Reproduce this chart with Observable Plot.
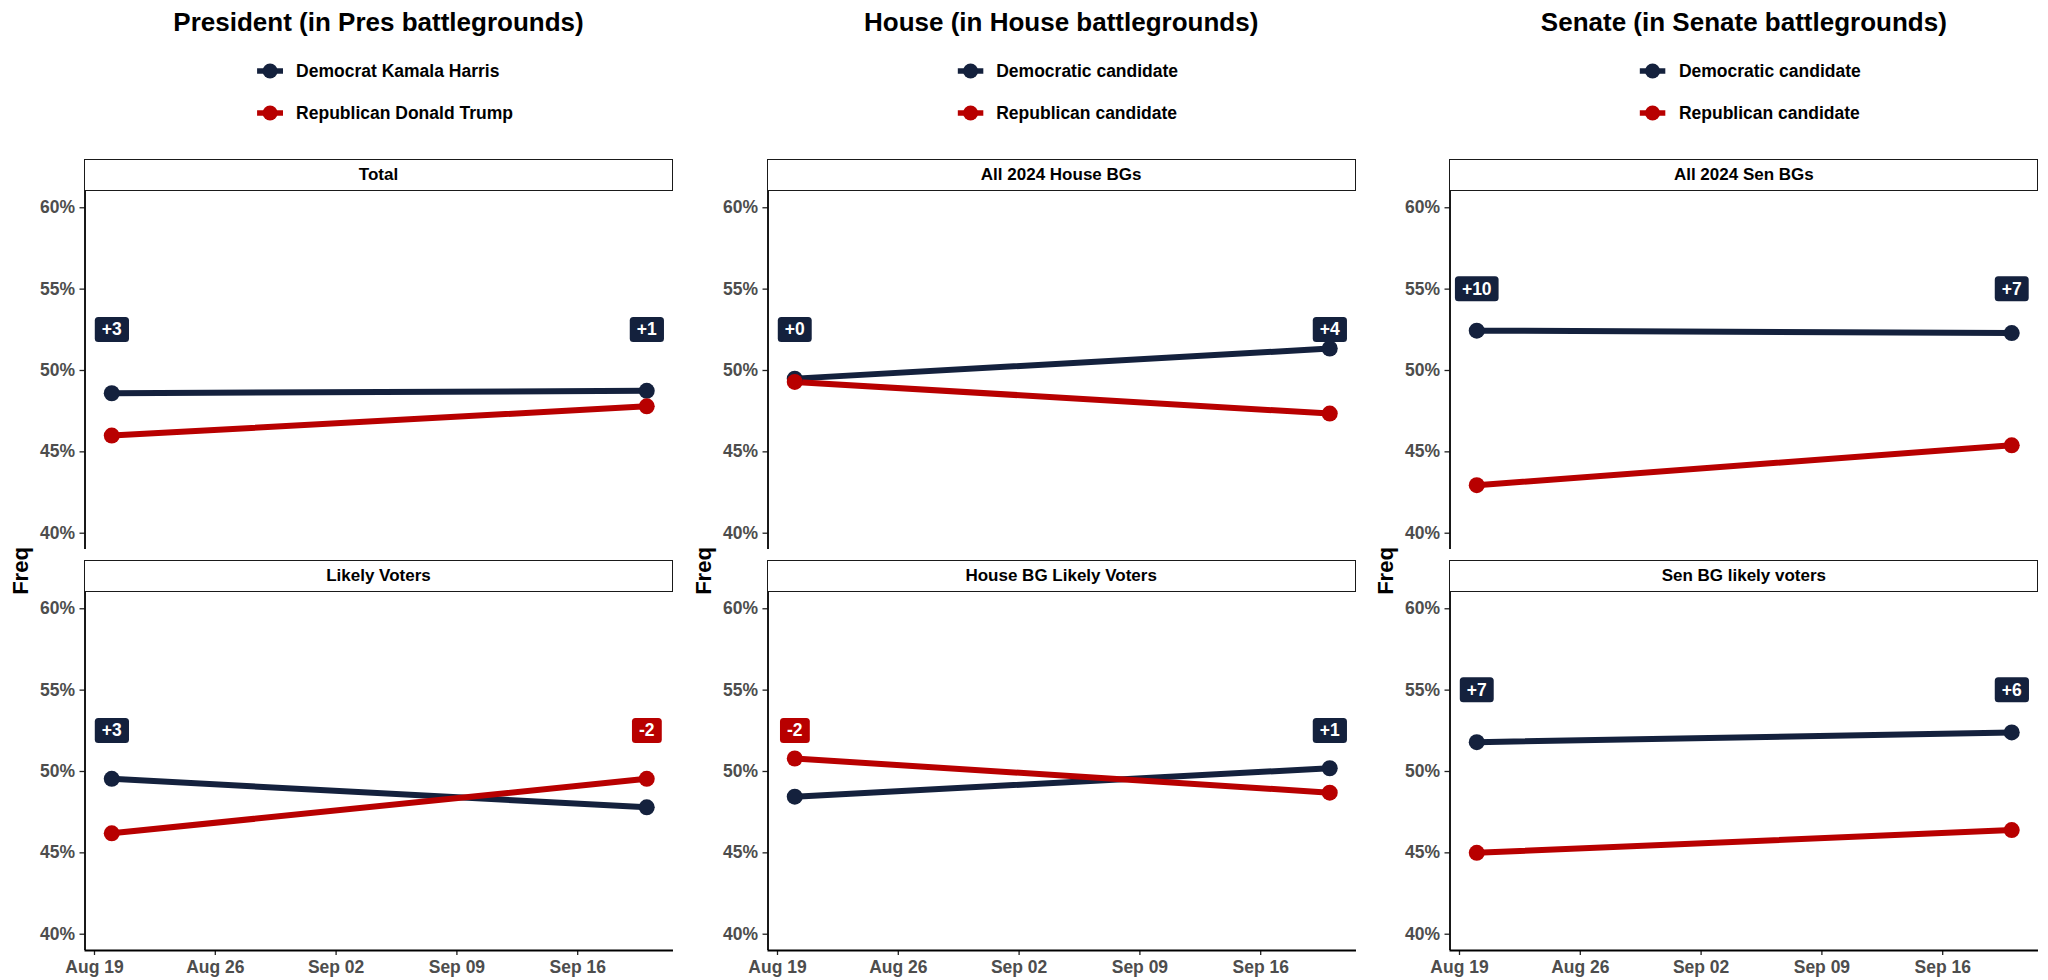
<!DOCTYPE html>
<html><head><meta charset="utf-8">
<script src="https://cdn.jsdelivr.net/npm/d3@7"></script>
<script src="https://cdn.jsdelivr.net/npm/@observablehq/plot@0.6"></script>
<style>
body{margin:0;background:#fff;font-family:"Liberation Sans",Arial,sans-serif;}
#root{position:relative;width:2048px;height:980px;overflow:hidden;background:#fff;}
.abs{position:absolute;}
.title{position:absolute;font-weight:bold;font-size:26px;line-height:30px;color:#000;white-space:nowrap;transform:translateX(-50%);}
.legend{position:absolute;transform:translateX(-50%);display:flex;flex-direction:column;gap:22.3px;}
.lrow{display:flex;align-items:center;height:20px;font-weight:bold;font-size:17.5px;line-height:20px;color:#000;white-space:nowrap;}
.lrow svg{margin-right:13px;}
.strip{position:absolute;box-sizing:border-box;border:1.8px solid #1a1a1a;background:#fff;font-weight:bold;font-size:17px;display:flex;align-items:center;justify-content:center;color:#000;white-space:nowrap;}
.ylab{position:absolute;font-weight:bold;font-size:22px;line-height:22px;color:#000;transform:translate(-50%,-50%) rotate(-90deg);white-space:nowrap;}
.panel{position:absolute;}
</style></head><body><div id="root"></div>
<script>
const DEM = "#14213d", REP = "#b80000";
const columnTitles = ["President (in Pres battlegrounds)", "House (in House battlegrounds)", "Senate (in Senate battlegrounds)"];
const legendDem = ["Democrat Kamala Harris", "Democratic candidate", "Democratic candidate"];
const legendRep = ["Republican Donald Trump", "Republican candidate", "Republican candidate"];
const facetLabels = [["Total", "Likely Voters"], ["All 2024 House BGs", "House BG Likely Voters"], ["All 2024 Sen BGs", "Sen BG likely voters"]];
const pollDates = ["2024-08-20", "2024-09-20"];
const demShare = [[[48.6, 48.75], [49.55, 47.8]], [[49.5, 51.35], [48.45, 50.2]], [[52.45, 52.3], [51.8, 52.4]]];
const repShare = [[[46.0, 47.8], [46.2, 49.55]], [[49.3, 47.35], [50.8, 48.7]], [[42.95, 45.4], [45.0, 46.4]]];
const marginText = [[["+3", "+1"], ["+3", "-2"]], [["+0", "+4"], ["-2", "+1"]], [["+10", "+7"], ["+7", "+6"]]];
const marginLeader = [[["D", "D"], ["D", "R"]], [["D", "D"], ["R", "D"]], [["D", "D"], ["D", "D"]]];
const labelLevel = [52.5, 52.5, 55];
const yTicks = [40, 45, 50, 55, 60];
const xTickDates = ["2024-08-19", "2024-08-26", "2024-09-02", "2024-09-09", "2024-09-16"];
const yLabel = "Freq";

const parse = d3.utcParse("%Y-%m-%d");
const root = document.getElementById("root");
const COLW = 2048 / 3;
const ML = 84.5, PANEL_R = 673, PH = 358;
const FONT = '"Liberation Sans", Arial, sans-serif';

function el(tag, cls, css, text) {
  const e = document.createElement(tag);
  if (cls) e.className = cls;
  Object.assign(e.style, css || {});
  if (text != null) e.textContent = text;
  root.appendChild(e);
  return e;
}

function keySvg(color) {
  return `<svg width="26" height="20"><line x1="0" x2="26" y1="10" y2="10" stroke="${color}" stroke-width="5.5"/><circle cx="13" cy="10" r="7.5" fill="${color}"/></svg>`;
}

function addBoxes(svg) {
  svg.querySelectorAll('g[aria-label="text"] text').forEach(t => {
    const color = t.getAttribute("fill");
    const b = t.getBBox();
    const r = document.createElementNS("http://www.w3.org/2000/svg", "rect");
    r.setAttribute("x", b.x - 7);
    r.setAttribute("y", b.y + b.height / 2 - 12.5);
    r.setAttribute("width", b.width + 14);
    r.setAttribute("height", 25);
    r.setAttribute("rx", 3.5);
    r.setAttribute("fill", color);
    const tr = t.getAttribute("transform");
    if (tr) r.setAttribute("transform", tr);
    t.parentNode.insertBefore(r, t);
    t.setAttribute("fill", "#fff");
  });
}

function panel(c, r) {
  const isBottom = r === 1;
  const xs = pollDates.map(parse);
  const rows = [];
  xs.forEach((x, i) => rows.push({x, v: demShare[c][r][i], party: "D"}));
  xs.forEach((x, i) => rows.push({x, v: repShare[c][r][i], party: "R"}));
  const span = xs[1] - xs[0];
  const xDomain = [new Date(+xs[0] - 0.05 * span), new Date(+xs[1] + 0.05 * span)];
  const labels = xs.map((x, i) => ({x, y: labelLevel[c], text: marginText[c][r][i], party: marginLeader[c][r][i]}));
  const mb = isBottom ? 30 : 10;
  const svg = Plot.plot({
    width: COLW,
    height: 10 + PH + mb,
    marginLeft: ML,
    marginRight: COLW - PANEL_R,
    marginTop: 10,
    marginBottom: mb,
    style: {background: "transparent", overflow: "visible", fontFamily: FONT},
    x: {type: "utc", domain: xDomain, axis: isBottom ? undefined : null},
    y: {domain: [39, 61]},
    color: {domain: ["D", "R"], range: [DEM, REP]},
    marks: [
      Plot.axisY(yTicks, {tickSize: 5, tickPadding: 5, tickFormat: d => d + "%", fontSize: 17.5, fontWeight: "bold", fill: "#4d4d4d", stroke: "#222", strokeWidth: 1.3, label: null}),
      isBottom ? Plot.axisX(xTickDates.map(parse), {tickSize: 5, tickPadding: 5, tickFormat: d3.utcFormat("%b %d"), fontSize: 17.5, fontWeight: "bold", fill: "#4d4d4d", stroke: "#222", strokeWidth: 1.3, label: null}) : null,
      Plot.ruleX([xDomain[0]], {stroke: "#000", strokeWidth: 1.8}),
      isBottom ? Plot.ruleY([39], {stroke: "#000", strokeWidth: 1.8}) : null,
      Plot.line(rows, {x: "x", y: "v", z: "party", stroke: "party", strokeWidth: 6}),
      Plot.dot(rows, {x: "x", y: "v", fill: "party", r: 8}),
      Plot.text(labels, {x: "x", y: "y", text: "text", fill: "party", fontSize: 17.5, fontWeight: "bold"})
    ]
  });
  const top = (isBottom ? 592 : 191) - 10;
  const div = el("div", "panel", {left: (c * COLW) + "px", top: top + "px", width: COLW + "px"});
  div.appendChild(svg);
  addBoxes(svg);
  el("div", "strip", {left: (c * COLW + ML - 0.5) + "px", top: (isBottom ? 560 : 159) + "px", width: (PANEL_R - ML + 0.5) + "px", height: "32px"}, facetLabels[c][r]);
}

for (let c = 0; c < 3; c++) {
  const ox = c * COLW;
  el("div", "title", {left: (ox + 378.5) + "px", top: "7px"}, columnTitles[c]);
  const lg = el("div", "legend", {left: (ox + 385) + "px", top: "61px"});
  lg.innerHTML = `<div class="lrow">${keySvg(DEM)}<span>${legendDem[c]}</span></div><div class="lrow">${keySvg(REP)}<span>${legendRep[c]}</span></div>`;
  el("div", "ylab", {left: (ox + 21) + "px", top: "571px"}, yLabel);
  panel(c, 0);
  panel(c, 1);
}
</script></body></html>
